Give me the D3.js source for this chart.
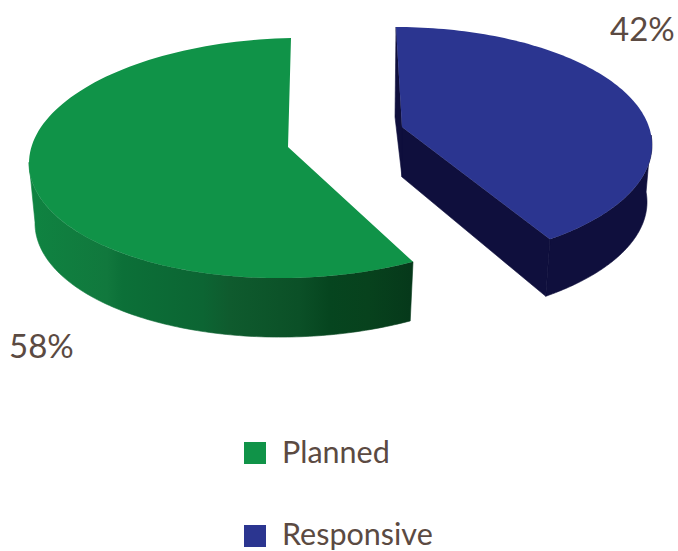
<!DOCTYPE html>
<html>
<head>
<meta charset="utf-8">
<script src="https://cdn.jsdelivr.net/npm/d3@7"></script>
<style>
  html, body { margin: 0; padding: 0; background: #fff; overflow: hidden; }
  text { font-family: Lato, sans-serif; fill: #5b4a42; }
</style>
</head>
<body>
<script>
const categories = ["Planned", "Responsive"];
const shares = [58, 42];
const labels = ["58%", "42%"];

// drawing geometry for each slice: top face ellipse, bottom face ellipse, tip of the wedge
const planned = {
  top: { cx: 291, cy: 158, rx: 262, ry: 120 },
  bottom: { cx: 291, cy: 218, rx: 256, ry: 119 },
  apex: [288, 147], sweep: 0.995, shear: -0.02
};
const responsive = {
  top: { cx: 396, cy: 145, rx: 256, ry: 118 },
  bottom: { cx: 393, cy: 202, rx: 254, ry: 118 },
  apex: [402, 127], apexBottom: [402, 177], backEdge: [395, 117], sweep: 0.946, shear: 0
};

const width = 678, height = 551;

const svg = d3.select("body").append("svg")
  .attr("width", width)
  .attr("height", height);

// wall shading of the green slice, left to right
const wallStops = [
  [0, "#0f8341"], [0.2, "#11783d"], [0.24, "#0c7038"], [0.45, "#0c6533"], [0.52, "#0f5b2e"],
  [0.7, "#0b5027"], [0.78, "#06451f"], [0.88, "#07421d"], [1, "#06381a"]
];
const grad = svg.append("defs").append("linearGradient")
  .attr("id", "plannedWall")
  .attr("gradientUnits", "userSpaceOnUse")
  .attr("x1", 30).attr("x2", 414).attr("y1", 0).attr("y2", 0);
grad.selectAll("stop").data(wallStops).join("stop")
  .attr("offset", d => d[0])
  .attr("stop-color", d => d[1]);

// slices run either side of 12 o'clock: Planned to the left, Responsive to the right
const arcs = d3.pie().sort(null).startAngle(0).endAngle(-2 * Math.PI)(shares);
const plannedRange = [arcs[0].endAngle, arcs[0].startAngle];
const responsiveRange = [arcs[1].endAngle + 2 * Math.PI, arcs[1].startAngle + 2 * Math.PI];

const ring = (e, slice) => {
  const x = d3.scaleLinear().domain([-1, 1]).range([e.cx - e.rx, e.cx + e.rx]);
  const y = d3.scaleLinear().domain([-1, 1]).range([e.cy - e.ry, e.cy + e.ry]);
  return a => {
    const t = a * slice.sweep;
    const px = x(Math.sin(t));
    return [px, y(-Math.cos(t)) + slice.shear * (px - e.cx)];
  };
};
const sample = (a0, a1) => d3.range(0, 121).map(i => a0 + (a1 - a0) * i / 120);
const line = d3.line();

const drawSlice = (slice, range, wallRange, faceFill, wallFill) => {
  const topAt = ring(slice.top, slice), bottomAt = ring(slice.bottom, slice);
  const angles = sample(wallRange[0], wallRange[1]);
  const wall = pts => svg.append("path")
    .attr("d", line(pts) + "Z")
    .attr("fill", wallFill)
    .attr("stroke", wallFill)
    .attr("stroke-width", 0.6);
  wall(angles.map(topAt).concat(angles.slice().reverse().map(bottomAt)));
  if (slice.apexBottom) {
    // cut faces of the wedge, visible under and left of the top face
    const end = range[1];
    wall([slice.apex, topAt(end), bottomAt(end), slice.apexBottom]);
    wall([topAt(range[0]), slice.apex, slice.apexBottom, slice.backEdge]);
  }
  svg.append("path")
    .attr("d", line(sample(range[0], range[1]).map(topAt).concat([slice.apex])) + "Z")
    .attr("fill", faceFill);
};

drawSlice(planned, plannedRange, [plannedRange[0], -Math.PI / 2], "#109348", "url(#plannedWall)");
drawSlice(responsive, responsiveRange, [Math.PI / 2, responsiveRange[1]], "#2b3590", "#0f0f3d");

const labelPos = [[9, 358], [610, 41]];
svg.selectAll("text.pct").data(labels).join("text")
  .attr("class", "pct")
  .attr("x", (d, i) => labelPos[i][0])
  .attr("y", (d, i) => labelPos[i][1])
  .attr("font-size", 33)
  .text(d => d);

const legendY = d3.scalePoint().domain(categories).range([442, 525]);
const legendTextY = d3.scalePoint().domain(categories).range([21, 19.5]);
const legendColor = d3.scaleOrdinal().domain(categories).range(["#109348", "#2b3590"]);
const legend = svg.selectAll("g.legend").data(categories).join("g")
  .attr("class", "legend")
  .attr("transform", d => `translate(244,${legendY(d)})`);
legend.append("rect")
  .attr("width", 22).attr("height", 22)
  .attr("fill", d => legendColor(d));
legend.append("text")
  .attr("x", 38).attr("y", d => legendTextY(d))
  .attr("font-size", 30.5)
  .text(d => d);
</script>
</body>
</html>
